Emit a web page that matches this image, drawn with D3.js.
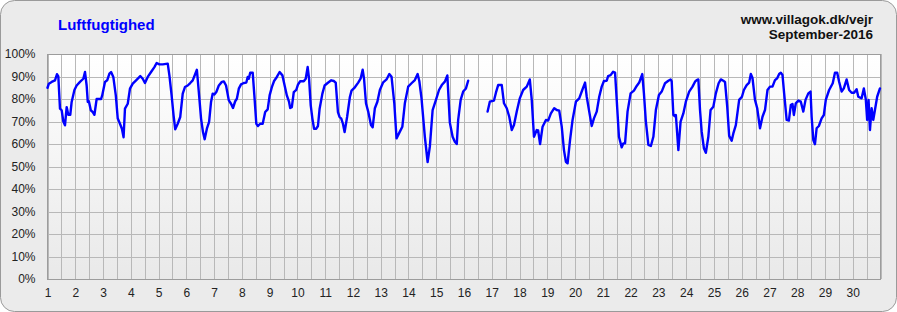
<!DOCTYPE html>
<html>
<head>
<meta charset="utf-8">
<script src="https://cdn.jsdelivr.net/npm/d3@7"></script>
<style>
  html, body { margin: 0; padding: 0; background: #ffffff; }
  svg { display: block; font-family: Arial, "Liberation Sans", sans-serif; }
</style>
</head>
<body>
<script>
"use strict";

// day of month (decimal) for each reading
const dayPos = [
  1.00, 1.05, 1.15, 1.27, 1.34, 1.39, 1.45, 1.51, 1.57, 1.63, 1.69, 1.75, 1.82, 1.87, 1.97,
  2.05, 2.17, 2.29, 2.35, 2.41, 2.45, 2.49, 2.56, 2.63, 2.69, 2.77, 2.83, 2.93, 2.97,
  3.07, 3.15, 3.23, 3.29, 3.37, 3.46, 3.53, 3.61, 3.68, 3.74, 3.79, 3.89, 3.97,
  4.07, 4.19, 4.34, 4.43, 4.51, 4.61, 4.73, 4.85, 4.93,
  5.03, 5.15, 5.33, 5.39, 5.47, 5.54, 5.60, 5.69, 5.78, 5.87, 5.95,
  6.05, 6.14, 6.23, 6.31, 6.38, 6.45, 6.53, 6.60, 6.66, 6.74, 6.82, 6.89, 6.95,
  7.01, 7.08, 7.17, 7.28, 7.35, 7.43, 7.53, 7.61, 7.68, 7.76, 7.82, 7.89, 7.97,
  8.07, 8.16, 8.21, 8.25, 8.30, 8.39, 8.45, 8.52, 8.58, 8.66, 8.75, 8.84, 8.93,
  9.00, 9.08, 9.16, 9.26, 9.36, 9.46, 9.54, 9.62, 9.70, 9.74, 9.80, 9.87, 9.96,
  10.02, 10.10, 10.23, 10.30, 10.37, 10.42, 10.48, 10.54, 10.60, 10.68, 10.74, 10.80, 10.90, 10.98,
  11.10, 11.22, 11.31, 11.38, 11.46, 11.52, 11.58, 11.64, 11.70, 11.79, 11.89, 11.95,
  12.07, 12.19, 12.28, 12.35, 12.40, 12.47, 12.55, 12.65, 12.71, 12.79, 12.88, 12.97,
  13.09, 13.21, 13.31, 13.39, 13.49, 13.57, 13.69, 13.78, 13.87, 13.99,
  14.11, 14.23, 14.33, 14.39, 14.47, 14.59, 14.69, 14.77, 14.87, 14.99,
  15.10, 15.20, 15.31, 15.40, 15.49, 15.59, 15.67, 15.74, 15.79, 15.88, 15.97,
  16.07, 16.15, 16.50, 16.85, 16.93,
  17.08, 17.15, 17.23, 17.36, 17.44, 17.54, 17.63, 17.72, 17.80, 17.90,
  18.01, 18.13, 18.26, 18.37, 18.44, 18.52, 18.62, 18.67, 18.74, 18.83, 18.95,
  19.03, 19.13, 19.25, 19.34, 19.43, 19.52, 19.60, 19.67, 19.73, 19.82, 19.91,
  20.03, 20.15, 20.26, 20.36, 20.42, 20.51, 20.60, 20.68, 20.78, 20.87, 20.96,
  21.04, 21.14, 21.19, 21.28, 21.37, 21.44, 21.50, 21.58, 21.68, 21.74, 21.80, 21.89,
  22.00, 22.12, 22.22, 22.31, 22.36, 22.42, 22.48, 22.55, 22.64, 22.73, 22.82, 22.91,
  23.02, 23.12, 23.24, 23.36, 23.44, 23.48, 23.54, 23.60, 23.63, 23.72, 23.80, 23.90, 23.99,
  24.11, 24.23, 24.32, 24.38, 24.44, 24.50, 24.56, 24.64, 24.71, 24.80, 24.88, 24.98,
  25.07, 25.17, 25.25, 25.34, 25.40, 25.48, 25.55, 25.64, 25.70, 25.79, 25.91,
  26.01, 26.08, 26.18, 26.27, 26.33, 26.39, 26.48, 26.56, 26.66, 26.75, 26.84, 26.93,
  27.02, 27.11, 27.20, 27.28, 27.35, 27.41, 27.47, 27.53, 27.62, 27.70, 27.77, 27.83, 27.88, 27.95,
  28.04, 28.13, 28.22, 28.30, 28.40, 28.48, 28.52, 28.58, 28.64, 28.70, 28.78, 28.88, 28.96,
  29.03, 29.15, 29.28, 29.36, 29.44, 29.51, 29.60, 29.68, 29.78, 29.87, 29.96,
  30.05, 30.14, 30.20, 30.32, 30.40, 30.47, 30.52, 30.57, 30.62, 30.68, 30.74, 30.80, 30.88, 30.98
];

// relative humidity in %, null = missing readings
const humidity = [
  85, 86.8, 87.6, 88.3, 91, 90, 75.7, 75, 70, 68.3, 76.4, 73, 73, 78.7, 84,
  86, 87.6, 89, 92, 86, 78.7, 79, 75, 74.2, 73, 80, 80, 80, 81.6,
  87.6, 88.3, 91.3, 92, 89.8, 81.6, 71.3, 69, 66.8, 63, 75.7, 77.9, 84.6,
  86.8, 88.3, 90.2, 89, 87.1, 89.8, 92, 94.2, 96,
  95.4, 95.4, 95.7, 90.5, 81.6, 72.7, 66.5, 69, 72, 82.4, 85.3,
  86, 87.1, 88.3, 90.8, 93, 83.1, 71.3, 65.3, 62.1, 66.8, 69.8, 78.7, 82.4,
  82, 83.1, 86, 87.6, 87.8, 86, 79.4, 77.9, 76, 79, 80.1, 84.6, 86.5,
  87.1, 87.3, 89.8, 89, 91.7, 91.7, 81.6, 69, 68, 69, 69, 74.2, 75.4,
  81.6, 85.3, 88, 89.8, 92, 90.5, 86, 81.6, 78.7, 76, 76.4, 83.1, 84.1,
  86.4, 87.9, 87.9, 89, 94.2, 89, 77.2, 71.3, 66.8, 66.8, 68, 75.7, 82.4, 86,
  87.2, 88.3, 88, 87.3, 74.2, 72, 71.3, 69, 65.3, 72, 80.9, 83.7,
  85.2, 87.3, 89.2, 93, 89, 78.1, 74.4, 68.4, 67.4, 75.9, 78.8, 84,
  87.4, 88.7, 91.1, 89.9, 78.1, 62.5, 65.5, 67.7, 78.1, 85.5,
  87, 88.4, 91.1, 88, 80.3, 63.2, 52, 58.8, 75.1, 79.6,
  84, 86.2, 87.7, 90.5, 69.5, 63.2, 61, 60, 70.7, 79.6, 83.3,
  84.7, 88.1, null, 74.4, 78.8,
  79.3, 82.8, 86.2, 86.2, 78.1, 75.9, 72.1, 66.2, 68.4, 74.4,
  80.3, 84, 85.5, 88.7, 79.6, 63.2, 66.2, 66, 60, 67.7, 70.7,
  70.4, 73.6, 75.9, 75.1, 74.8, 67.7, 57.3, 52.1, 51.4, 61.8, 70.7,
  78.8, 80.3, 84, 87.3, 81, 74.4, 68, 71.4, 74.4, 81, 85.5,
  88, 88.1, 90.2, 90.6, 92.1, 91.7, 79.6, 63.2, 58.5, 60.3, 60.3, 74.4,
  82.5, 83.7, 85.8, 87.3, 89, 91.1, 82.5, 69.9, 59.6, 59.1, 63.2, 75.1,
  81.8, 83.3, 87, 88.1, 88.7, 87.8, 72.9, 72.3, 72.9, 57.3, 69.9, 73.6, 78.8,
  83.3, 85.5, 87.7, 88.4, 88.7, 75.1, 65.5, 58.1, 56.1, 63.2, 75.1, 76.6,
  82.5, 87, 88.7, 88.1, 87.6, 76.6, 63.6, 61.5, 64.7, 68.4, 79.6,
  81, 84, 86.2, 87.3, 91.1, 89.3, 79.6, 75.9, 67, 72.1, 75.1, 84,
  85.5, 85.5, 88.4, 89.2, 91.1, 91.7, 90.7, 82.5, 70.7, 70.4, 77.3, 77.8, 72.9, 78.1,
  79.3, 78.8, 74.4, 79.6, 82.5, 83.3, 72.1, 61.8, 59.9, 67, 68, 71.4, 72.9,
  79.6, 84, 87, 91.7, 91.7, 87.7, 83.3, 84.7, 88.7, 84, 82.8,
  82.8, 84.3, 81, 80.3, 84.7, 79.9, 70.7, 79.6, 66.2, 75.9, 70.7, 75.1, 81, 84.7
];

const dayLabels = d3.range(1, 31);
const yTicks = d3.range(0, 101, 10);

const titleText = "Luftfugtighed";
const siteText = "www.villagok.dk/vejr";
const monthText = "September-2016";

const W = 897, H = 312;
const plot = { left: 47.5, right: 880.5, top: 54, bottom: 279 };

const svg = d3.select("body").append("svg")
  .attr("width", W)
  .attr("height", H);

const defs = svg.append("defs");
const grad = defs.append("linearGradient")
  .attr("id", "plotbg")
  .attr("x1", 0).attr("y1", 0).attr("x2", 0).attr("y2", 1);
grad.append("stop").attr("offset", "0%").attr("stop-color", "#ffffff");
grad.append("stop").attr("offset", "100%").attr("stop-color", "#e9e9e9");

// outer panel
svg.append("rect")
  .attr("x", 0.5).attr("y", 0.5)
  .attr("width", W - 1).attr("height", H - 1)
  .attr("rx", 14).attr("ry", 14)
  .attr("fill", "#ebebeb")
  .attr("stroke", "#9a9a9a");

const x = d3.scaleLinear().domain([1, 31]).range([plot.left, plot.right]);
const y = d3.scaleLinear().domain([0, 100]).range([plot.bottom, plot.top]);

svg.append("rect")
  .attr("x", plot.left).attr("y", plot.top)
  .attr("width", plot.right - plot.left)
  .attr("height", plot.bottom - plot.top)
  .attr("fill", "url(#plotbg)");

// vertical grid every half day
const xGrid = svg.append("g")
  .attr("transform", "translate(0," + plot.bottom + ")")
  .call(d3.axisBottom(x)
    .tickValues(d3.range(1, 31.01, 0.5))
    .tickSize(-(plot.bottom - plot.top))
    .tickFormat(""));
xGrid.select(".domain").remove();
xGrid.selectAll("line").attr("stroke", "#b8b8b8").attr("stroke-width", 1)
  .attr("shape-rendering", "crispEdges");

// horizontal grid + y labels
const yAxis = svg.append("g")
  .attr("transform", "translate(" + plot.left + ",0)")
  .call(d3.axisLeft(y)
    .tickValues(yTicks)
    .tickSize(-(plot.right - plot.left))
    .tickPadding(12)
    .tickFormat(function(d) { return d + "%"; }));
yAxis.select(".domain").remove();
yAxis.selectAll("line").attr("stroke", "#b8b8b8").attr("shape-rendering", "crispEdges");
yAxis.selectAll("text")
  .attr("fill", "#222")
  .style("font-size", "12px")
  .style("font-family", "Arial, 'Liberation Sans', sans-serif");

// x labels
const xAxis = svg.append("g")
  .attr("transform", "translate(0," + plot.bottom + ")")
  .call(d3.axisBottom(x)
    .tickValues(dayLabels)
    .tickSize(0)
    .tickPadding(9)
    .tickFormat(d3.format("d")));
xAxis.select(".domain").remove();
xAxis.selectAll("text")
  .attr("fill", "#222")
  .style("font-size", "12px")
  .style("font-family", "Arial, 'Liberation Sans', sans-serif");

// plot border
svg.append("rect")
  .attr("x", plot.left).attr("y", plot.top)
  .attr("width", plot.right - plot.left)
  .attr("height", plot.bottom - plot.top)
  .attr("fill", "none")
  .attr("stroke", "#9c9c9c")
  .attr("shape-rendering", "crispEdges");

// humidity line
const points = dayPos.map(function(d, i) { return { t: d, v: humidity[i] }; });
const line = d3.line()
  .defined(function(d) { return d.v != null; })
  .x(function(d) { return x(d.t); })
  .y(function(d) { return y(d.v); });

svg.append("path")
  .datum(points)
  .attr("d", line)
  .attr("fill", "none")
  .attr("stroke", "#0000ff")
  .attr("stroke-width", 2.4)
  .attr("stroke-linejoin", "round")
  .attr("stroke-linecap", "round");

// titles
svg.append("text")
  .attr("x", 58).attr("y", 30)
  .attr("fill", "#0000ff")
  .style("font-size", "15px")
  .style("font-weight", "bold")
  .text(titleText);

svg.append("text")
  .attr("x", 873).attr("y", 24)
  .attr("text-anchor", "end")
  .attr("fill", "#111")
  .style("font-size", "13.5px")
  .style("font-weight", "bold")
  .text(siteText);

svg.append("text")
  .attr("x", 873).attr("y", 39)
  .attr("text-anchor", "end")
  .attr("fill", "#111")
  .style("font-size", "13.5px")
  .style("font-weight", "bold")
  .text(monthText);
</script>
</body>
</html>
